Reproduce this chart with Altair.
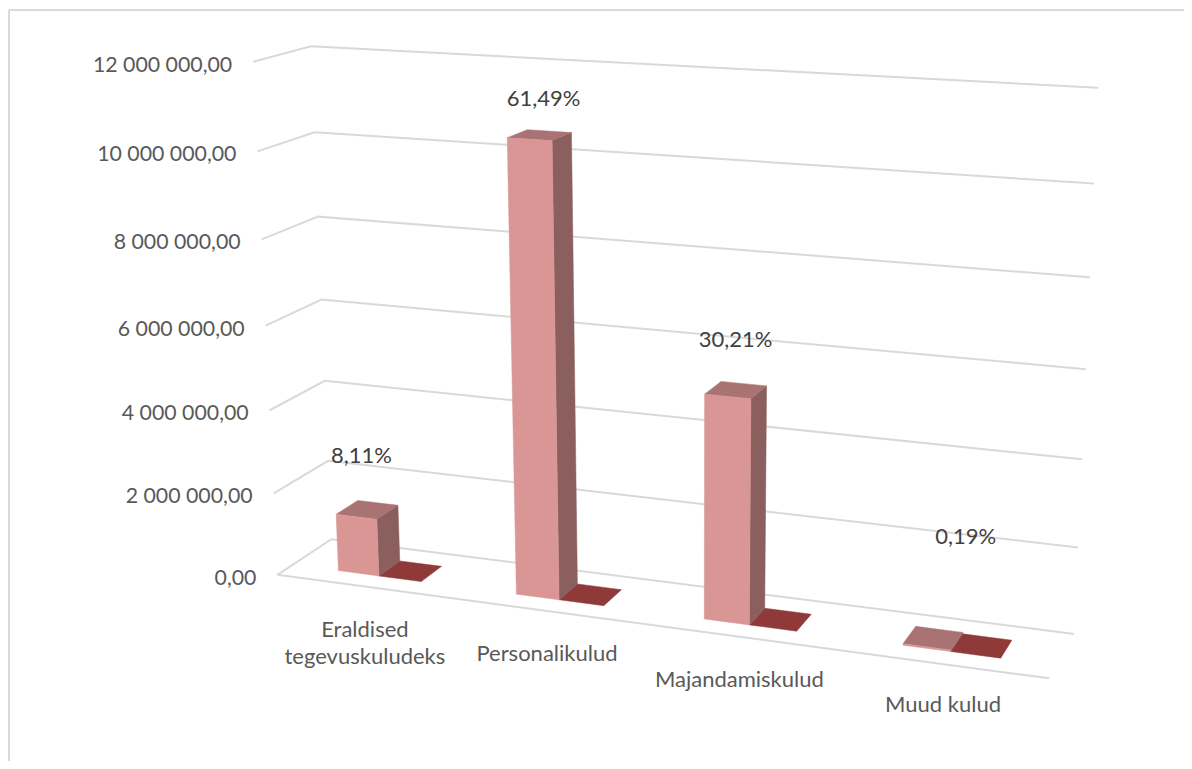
import numpy as np
import pandas as pd
import altair as alt

# ---- data
categories = ["Eraldised\ntegevuskuludeks", "Personalikulud", "Majandamiskulud", "Muud kulud"]
series_a = [1390000, 10530000, 5190000, 33000]
series_b = [0, 0, 0, 0]
percent_labels = ["8,11%", "61,49%", "30,21%", "0,19%"]
tick_values = [0, 2000000, 4000000, 6000000, 8000000, 10000000, 12000000]
tick_labels = ["0,00", "2 000 000,00", "4 000 000,00", "6 000 000,00", "8 000 000,00", "10 000 000,00", "12 000 000,00"]

# ---- layout: oblique camera calibrated on the chart's box
W, H = 1176, 753
V_MAX = 12000000
front_left = [(277, 575), (273, 492), (271, 410), (267, 326), (261, 239), (257, 150), (253, 63)]
back_left = [(332, 540), (328, 461), (324, 381), (321, 300), (318, 217), (315, 132), (311, 46)]
back_right = [(1074, 633), (1078, 547), (1082, 459), (1086, 369), (1090, 277), (1094, 184), (1098, 88)]
front_right_floor = (1049, 680)

pts = []
for vals, (u, z) in ((front_left, (0, 0)), (back_left, (0, 1)), (back_right, (1, 1))):
    for t, (X, Y) in zip(tick_values, vals):
        pts.append((u, t / V_MAX, z, X, Y))
pts.append((1, 0, 0, *front_right_floor))
A, B = [], []
for u, v, z, X, Y in pts:
    A.append([u, v, z, 1, 0, 0, 0, 0, -X * u, -X * v, -X * z]); B.append(X)
    A.append([0, 0, 0, 0, u, v, z, 1, -Y * u, -Y * v, -Y * z]); B.append(Y)
P = np.linalg.lstsq(np.array(A, float), np.array(B, float), rcond=None)[0]


def proj(u, value, z):
    v = value / V_MAX
    w = P[8] * u + P[9] * v + P[10] * z + 1
    return ((P[0] * u + P[1] * v + P[2] * z + P[3]) / w,
            (P[4] * u + P[5] * v + P[6] * z + P[7]) / w)


BAND = 0.25
BAR_START = 0.066
BAR_W = 0.058
RED_W = 0.060
Z0, Z1 = 0.28, 0.69
label_dx = [5, 14, 8, 39]
label_dy = [-61, -40, -56, -110]
cat_dy = [33, 33, 33, 31]


def polygons(rows, name, corners):
    for k, (u, val, z) in enumerate(corners):
        X, Y = proj(u, val, z)
        rows.append({"poly": name, "k": k, "x": X, "y": Y})


side, top, front, red, grid, texts = [], [], [], [], [], []
for i, (a, b) in enumerate(zip(series_a, series_b)):
    u0 = i * BAND + BAR_START
    u1 = u0 + BAR_W
    u2 = u1 + RED_W
    polygons(front, f"f{i}", [(u0, 0, Z0), (u1, 0, Z0), (u1, a, Z0), (u0, a, Z0)])
    polygons(side, f"s{i}", [(u1, 0, Z0), (u1, 0, Z1), (u1, a, Z1), (u1, a, Z0)])
    polygons(top, f"t{i}", [(u0, a, Z0), (u1, a, Z0), (u1, a, Z1), (u0, a, Z1)])
    polygons(red, f"r{i}", [(u1, b, Z0), (u2, b, Z0), (u2, b, Z1), (u1, b, Z1)])
    tx, ty = proj((u0 + u1) / 2, a, Z0)
    texts.append({"x": tx + label_dx[i], "y": ty + label_dy[i], "t": percent_labels[i],
                  "kind": "pct"})
    cx, cy = proj(i * BAND + BAR_START + BAR_W * 0.5 + 0.030, 0, 0)
    texts.append({"x": cx, "y": cy + cat_dy[i], "t": categories[i], "kind": "cat"})

for t, lab in zip(tick_values, tick_labels):
    for k, (u, z) in enumerate([(0, 0), (0, 1), (1, 1)]):
        X, Y = proj(u, t, z)
        grid.append({"poly": f"g{t}", "k": k, "x": X, "y": Y})
    X, Y = proj(0, t, 0)
    texts.append({"x": X - 21, "y": Y + 4, "t": lab, "kind": "tick"})
for k, (u, z) in enumerate([(0, 0), (1, 0)]):
    X, Y = proj(u, 0, z)
    grid.append({"poly": "floor", "k": k, "x": X, "y": Y})

x_enc = alt.X("x:Q", axis=None, scale=alt.Scale(domain=[8, 8 + W], nice=False, zero=False))
y_enc = alt.Y("y:Q", axis=None, scale=alt.Scale(domain=[8 + H, 8], nice=False, zero=False))


def faces(rows, colour):
    return alt.Chart(pd.DataFrame(rows)).mark_line(
        fill=colour, stroke=colour, strokeWidth=0.5, interpolate="linear-closed"
    ).encode(x=x_enc, y=y_enc, detail="poly:N", order="k:Q")


grid_layer = alt.Chart(pd.DataFrame(grid)).mark_line(stroke="#D9D9D9", strokeWidth=2).encode(
    x=x_enc, y=y_enc, detail="poly:N", order="k:Q")

frame_left = alt.Chart().mark_rule(stroke="#D9D9D9", strokeWidth=2).encode(
    x=alt.value(1), y=alt.value(2), y2=alt.value(H))
frame_top = alt.Chart().mark_rule(stroke="#D9D9D9", strokeWidth=2).encode(
    x=alt.value(1), x2=alt.value(W), y=alt.value(2))

tdf = pd.DataFrame(texts)
FONT = "Lato"
tick_text = alt.Chart(tdf[tdf.kind == "tick"]).mark_text(
    font=FONT, fontSize=21.3, color="#595959", align="right", baseline="middle"
).encode(x=x_enc, y=y_enc, text="t:N")
pct_text = alt.Chart(tdf[tdf.kind == "pct"]).mark_text(
    font=FONT, fontSize=22, color="#404040", align="center", baseline="middle"
).encode(x=x_enc, y=y_enc, text="t:N")
cat_text = alt.Chart(tdf[tdf.kind == "cat"]).mark_text(
    font=FONT, fontSize=22, color="#595959", align="center", baseline="top",
    lineBreak="\n", lineHeight=27
).encode(x=x_enc, y=y_enc, text="t:N")

chart = alt.layer(
    frame_left, frame_top, grid_layer,
    faces(red, "#8F3A38"), faces(side, "#8B5F5E"), faces(top, "#A87372"), faces(front, "#D99694"),
    tick_text, pct_text, cat_text,
).properties(width=W, height=H, padding=0, background="white",
             autosize=alt.AutoSizeParams(type="none")
).configure_view(stroke=None)

chart.save("out.html", embed_options={"renderer": "svg", "actions": False})
